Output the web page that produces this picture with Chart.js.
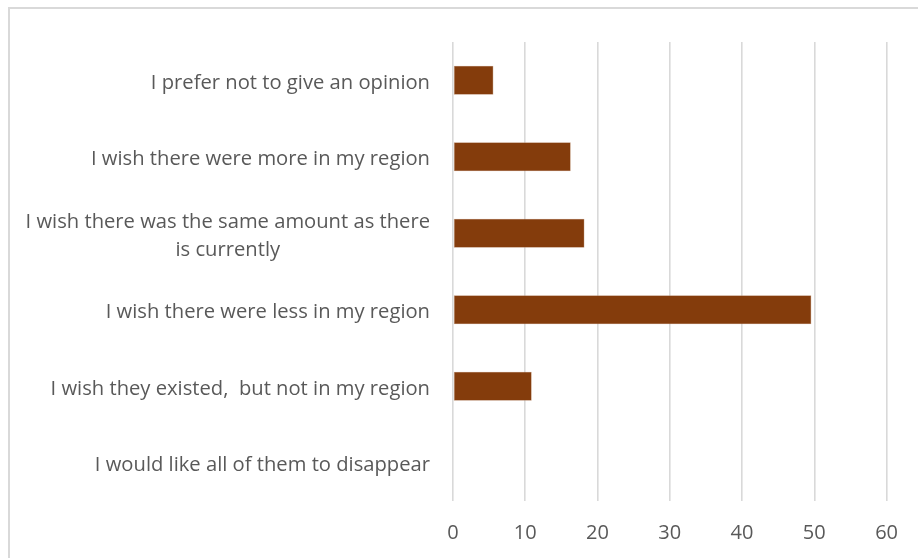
<!DOCTYPE html>
<html>
<head>
<meta charset="utf-8">
<script src="https://cdn.jsdelivr.net/npm/chart.js@4/dist/chart.umd.min.js"></script>
<style>
  html, body { margin: 0; padding: 0; background: #ffffff; }
  #wrap { width: 918px; height: 558px; position: relative; }
</style>
</head>
<body>
<div id="wrap"><canvas id="c" width="918" height="558"></canvas></div>
<script>
const categories = [
  ["I prefer not to give an opinion"],
  ["I wish there were more in my region"],
  ["I wish there was the same amount as there", "is currently"],
  ["I wish there were less in my region"],
  ["I wish they existed,  but not in my region"],
  ["I would like all of them to disappear"]
];
const values = [5.6, 16.3, 18.2, 49.6, 10.9, 0];
const xTicks = [0, 10, 20, 30, 40, 50, 60];

const FONT = "'Open Sans', Lato, sans-serif";
const TEXT = "#595959";
const GRID = "#d9d9d9";

const frame = {
  id: 'frame',
  beforeDraw(chart) {
    const ctx = chart.ctx;
    ctx.save();
    ctx.fillStyle = '#ffffff';
    ctx.fillRect(0, 0, chart.width, chart.height);
    ctx.strokeStyle = GRID;
    ctx.lineWidth = 2;
    ctx.strokeRect(9, 8, chart.width + 20, chart.height + 20);
    ctx.restore();
  }
};

const catLabels = {
  id: 'catLabels',
  afterDraw(chart) {
    const ctx = chart.ctx;
    const y = chart.scales.y;
    const right = chart.chartArea.left - 23;
    ctx.save();
    ctx.font = "20.2px " + FONT;
    ctx.fillStyle = TEXT;
    ctx.textBaseline = 'middle';
    categories.forEach((lines, i) => {
      const cy = y.getPixelForValue(i) + 2.5;
      const lh = 28;
      const widths = lines.map(l => ctx.measureText(l).width);
      const maxW = Math.max(...widths);
      const cx = right - maxW / 2;
      lines.forEach((l, k) => {
        const ly = cy + (k - (lines.length - 1) / 2) * lh;
        ctx.textAlign = 'center';
        ctx.fillText(l, cx, ly);
      });
    });
    ctx.restore();
  }
};

new Chart(document.getElementById('c'), {
  type: 'bar',
  data: {
    labels: categories,
    datasets: [{
      data: values,
      backgroundColor: '#843C0C',
      borderColor: '#c9a58c',
      borderWidth: 0.6,
      borderSkipped: false,
      barPercentage: 0.38,
      categoryPercentage: 1.0
    }]
  },
  options: {
    indexAxis: 'y',
    responsive: false,
    animation: false,
    devicePixelRatio: 1,
    layout: { padding: { top: 42, right: 31, bottom: 0, left: 0 } },
    plugins: { legend: { display: false }, tooltip: { enabled: false } },
    scales: {
      x: {
        min: 0, max: 60,
        afterBuildTicks(scale) { scale.ticks = xTicks.map(v => ({ value: v })); },
        grid: { color: GRID, lineWidth: 1.6, drawTicks: false },
        border: { display: false },
        ticks: { color: TEXT, font: { family: FONT, size: 20 }, padding: 20 },
        afterFit(scale) { scale.height = 57; }
      },
      y: {
        grid: { display: false },
        border: { display: false },
        ticks: { display: false },
        afterFit(scale) { scale.width = 453; }
      }
    }
  },
  plugins: [frame, catLabels]
});
</script>
</body>
</html>
